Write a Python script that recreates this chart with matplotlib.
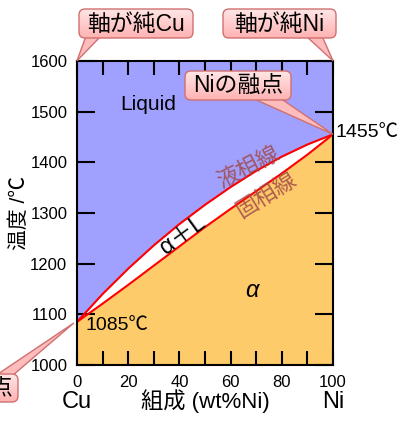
import matplotlib
matplotlib.use("Agg")
import matplotlib.pyplot as plt
from matplotlib.patches import FancyBboxPatch, Polygon
import numpy as np

plt.rcParams['font.family'] = ['Liberation Sans', 'Noto Sans CJK JP']

# Cu-Ni phase diagram
comp = [0, 10, 20, 30, 40, 50, 60, 70, 80, 90, 100]
liquidus = [1085, 1140, 1190, 1236, 1278, 1316, 1351, 1383, 1411, 1435, 1455]
solidus = [1085, 1121, 1158, 1196, 1234, 1272, 1308, 1343, 1378, 1415, 1455]
x_ticks = [0, 20, 40, 60, 80, 100]
y_ticks = [1000, 1100, 1200, 1300, 1400, 1500, 1600]

liq_color = '#a0a0ff'
sol_color = '#fecb6b'
note_color = '#a04848'

W, H = 402, 421
fig = plt.figure(figsize=(W / 100, H / 100), dpi=100)
ax = fig.add_axes([0.1915, 0.133, 0.637, 0.7225])

ax.fill_between(comp, liquidus, 1600, color=liq_color, lw=0)
ax.fill_between(comp, 1000, solidus, color=sol_color, lw=0)
ax.plot(comp, liquidus, color='red', lw=1.5)
ax.plot(comp, solidus, color='red', lw=1.5)

ax.set_xlim(0, 100)
ax.set_ylim(1000, 1600)
ax.set_xticks(x_ticks)
ax.set_xticks([10, 30, 50, 70, 90], minor=True)
ax.set_yticks(y_ticks)
ax.tick_params(axis='both', direction='in', top=True, right=True,
               width=1.5, labelsize=12, pad=7)
ax.tick_params(axis='x', which='both', length=10)
ax.tick_params(axis='x', which='minor', direction='in', top=True, width=1.5)
ax.tick_params(axis='y', length=13)
for s in ax.spines.values():
    s.set_linewidth(1.5)

ax.set_xlabel('組成 (wt%Ni)', fontsize=16, labelpad=0)
ax.set_ylabel('温度 /℃', fontsize=15, labelpad=1)

ax.text(0, 928, 'Cu', fontsize=17, ha='center', va='center', clip_on=False)
ax.text(100, 928, 'Ni', fontsize=17, ha='center', va='center', clip_on=False)

ax.text(28, 1513, 'Liquid', fontsize=15, ha='center', va='center')
ax.text(41.5, 1256, 'α＋L', fontsize=17, ha='center', va='center', rotation=36)
ax.text(68.4, 1146, 'α', fontsize=17, ha='center', va='center', style='italic')
ax.text(67, 1388, '液相線', fontsize=16, ha='center', va='center',
        rotation=27, color=note_color, alpha=0.85)
ax.text(74, 1334, '固相線', fontsize=16, ha='center', va='center',
        rotation=32, color=note_color, alpha=0.85)

ax.text(101, 1459, '1455℃', fontsize=14, ha='left', va='center', clip_on=False)
ax.text(3.5, 1077, '1085℃', fontsize=14, ha='left', va='center')

# overlay in picture pixels (origin top-left) for the callouts
ov = fig.add_axes([0, 0, 1, 1], zorder=5)
ov.set_xlim(0, W)
ov.set_ylim(H, 0)
ov.axis('off')

grad = np.linspace(0, 1, 64).reshape(-1, 1)
pink = plt.matplotlib.colors.LinearSegmentedColormap.from_list('pink', ['#ffe6e6', '#ffb2b2'])


def callout(text, xy, box, base):
    fig.canvas.draw()
    px, py = ax.transData.transform(xy)
    tip = (px, H - py)
    x0, y0, x1, y1 = box
    bx0, bx1, by = base
    wedge = Polygon([(bx0, by), tip, (bx1, by)], closed=True,
                    fc='#ffbcbc', ec='#d07070', lw=1, zorder=1, clip_on=False)
    ov.add_patch(wedge)
    patch = FancyBboxPatch((x0, y0), x1 - x0, y1 - y0,
                           boxstyle='round,pad=0,rounding_size=6',
                           fc='none', ec='#d07070', lw=1, zorder=3, clip_on=False)
    ov.add_patch(patch)
    im = ov.imshow(grad, cmap=pink, extent=(x0, x1, y1, y0), aspect='auto',
                   zorder=2, interpolation='bilinear')
    im.set_clip_path(patch)
    ov.text((x0 + x1) / 2, (y0 + y1) / 2 + 1, text, fontsize=16.5,
            ha='center', va='center', zorder=4, clip_on=False)
    ov.set_xlim(0, W)
    ov.set_ylim(H, 0)


callout('軸が純Cu', (0, 1600), (79, 9, 193, 38), (86, 101, 36))
callout('軸が純Ni', (100, 1600), (223, 9, 336, 38), (306, 322, 36))
callout('Niの融点', (100, 1455), (185, 71, 291, 100), (252, 280, 98))
callout('Cuの融点', (-1.2, 1083), (-88, 374, 18, 402), (-5, 12, 376))

fig.savefig('out.png', dpi=100)
